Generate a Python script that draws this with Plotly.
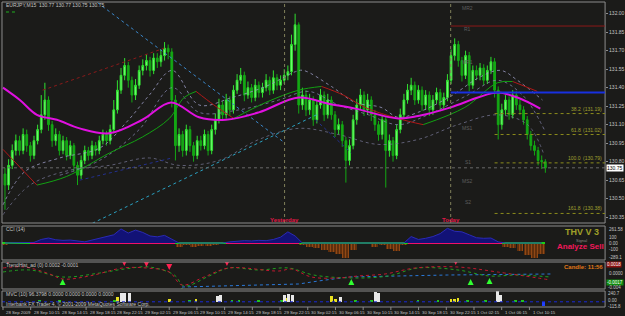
import plotly.graph_objects as go

W, H = 625, 316
BG = "#1b1b19"
FONT = "Liberation Sans"


def fx(p):
    return p / W


def fy(p):
    return (H - p) / H


# ---------------- price data (M15 candles, 2 bars per candle) ----------------
first_open = 130.70
closes = [
    130.61, 130.77, 130.89, 130.97, 130.89, 131.02, 130.93, 130.85, 130.97, 131.06,
    131.18, 131.30, 131.10, 130.97, 131.02, 130.89, 130.97, 130.85, 130.93, 130.77,
    130.69, 130.81, 130.89, 130.85, 130.93, 130.89, 130.97, 131.02, 130.97, 131.06,
    131.22, 131.38, 131.50, 131.58, 131.46, 131.34, 131.42, 131.54, 131.58, 131.62,
    131.54, 131.64, 131.61, 131.66, 131.72, 131.69, 131.30, 130.93, 131.02, 130.89,
    131.06, 130.93, 130.85, 130.97, 130.93, 131.02, 130.89, 131.06, 131.14, 131.26,
    131.18, 131.30, 131.22, 131.38, 131.46, 131.50, 131.34, 131.40, 131.32, 131.42,
    131.36, 131.40, 131.46, 131.38, 131.48, 131.42, 131.46, 131.50, 131.53, 131.75,
    131.91, 131.26, 131.34, 131.22, 131.30, 131.14, 131.26, 131.34, 131.18, 131.30,
    131.18, 131.06, 131.10, 130.97, 130.81, 130.93, 131.14, 131.26, 131.34, 131.22,
    131.30, 131.18, 131.10, 131.02, 131.14, 130.89, 130.97, 130.85, 131.06, 131.18,
    131.30, 131.38, 131.42, 131.30, 131.38, 131.26, 131.34, 131.22, 131.30, 131.36,
    131.26, 131.32, 131.46, 131.66, 131.75, 131.62, 131.50, 131.66, 131.42, 131.54,
    131.50, 131.56, 131.46, 131.54, 131.61, 131.38, 131.10, 131.22, 131.30, 131.18,
    131.34, 131.26, 131.22, 131.14, 131.02, 130.93, 130.89, 130.81, 130.80, 130.75,
]
highs = [
    130.75, 130.82, 130.94, 131.02, 131.01, 131.07, 131.06, 130.96, 131.01, 131.10,
    131.34, 131.44, 131.33, 131.13, 131.07, 131.05, 131.01, 131.00, 130.97, 130.95,
    130.80, 130.85, 130.93, 130.92, 130.97, 130.96, 131.01, 131.06, 131.05, 131.10,
    131.30, 131.46, 131.56, 131.64, 131.61, 131.49, 131.47, 131.58, 131.63, 131.67,
    131.65, 131.68, 131.68, 131.71, 131.77, 131.75, 131.72, 131.34, 131.07, 131.05,
    131.10, 131.09, 130.96, 131.01, 131.01, 131.06, 131.05, 131.10, 131.19, 131.31,
    131.29, 131.35, 131.33, 131.42, 131.51, 131.56, 131.53, 131.45, 131.43, 131.47,
    131.45, 131.44, 131.51, 131.49, 131.54, 131.51, 131.50, 131.55, 131.58, 131.83,
    132.00, 131.93, 131.40, 131.38, 131.35, 131.33, 131.30, 131.39, 131.37, 131.35,
    131.33, 131.21, 131.15, 131.13, 131.00, 130.98, 131.18, 131.31, 131.39, 131.37,
    131.35, 131.33, 131.22, 131.13, 131.18, 131.17, 131.02, 131.00, 131.10, 131.23,
    131.35, 131.43, 131.48, 131.45, 131.42, 131.41, 131.38, 131.37, 131.34, 131.40,
    131.39, 131.36, 131.51, 131.71, 131.80, 131.78, 131.65, 131.70, 131.69, 131.58,
    131.58, 131.60, 131.59, 131.58, 131.65, 131.64, 131.41, 131.27, 131.34, 131.33,
    131.38, 131.37, 131.30, 131.25, 131.17, 131.05, 130.97, 130.92, 130.85, 130.82,
]
lows = [
    130.41, 130.57, 130.74, 130.85, 130.85, 130.86, 130.88, 130.80, 130.82, 130.94,
    131.03, 131.14, 131.05, 130.92, 130.93, 130.85, 130.86, 130.81, 130.82, 130.72,
    130.61, 130.66, 130.78, 130.81, 130.82, 130.85, 130.86, 130.94, 130.93, 130.94,
    131.03, 131.19, 131.35, 131.46, 131.40, 131.28, 131.30, 131.39, 131.50, 131.54,
    131.49, 131.51, 131.56, 131.57, 131.62, 131.63, 131.24, 130.81, 130.88, 130.84,
    130.85, 130.88, 130.80, 130.82, 130.89, 130.90, 130.85, 130.86, 131.02, 131.11,
    131.13, 131.15, 131.17, 131.19, 131.35, 131.43, 131.29, 131.31, 131.28, 131.29,
    131.32, 131.32, 131.37, 131.34, 131.35, 131.38, 131.38, 131.43, 131.46, 131.50,
    131.70, 131.19, 131.22, 131.17, 131.18, 131.09, 131.11, 131.23, 131.13, 131.15,
    131.14, 131.00, 131.02, 130.92, 130.63, 130.77, 130.90, 131.10, 131.22, 131.17,
    131.18, 131.13, 131.05, 130.97, 130.98, 130.59, 130.84, 130.80, 130.82, 131.03,
    131.15, 131.27, 131.34, 131.26, 131.27, 131.21, 131.22, 131.17, 131.18, 131.27,
    131.21, 131.22, 131.29, 131.43, 131.62, 131.57, 131.45, 131.47, 131.37, 131.39,
    131.46, 131.46, 131.42, 131.43, 131.51, 131.32, 130.98, 131.06, 131.18, 131.14,
    131.15, 131.22, 131.18, 131.10, 130.98, 130.89, 130.85, 130.77, 130.74, 130.71,
]

# ---------------- overlay lines (control points: bar index, price) ----------------
magenta_idx = [-0.55, 4.1, 8.8, 14.3, 20.6, 28.8, 37.9, 45.8, 53.5, 60.9, 70.0,
               81.0, 89.2, 96.6, 108.4, 113.9, 122.9, 130.4, 135.8, 141.3, 147.6]
magenta_val = [131.40, 131.30, 131.18, 131.14, 131.07, 131.03, 131.14, 131.28, 131.16, 131.14, 131.20,
               131.32, 131.27, 131.23, 131.15, 131.17, 131.24, 131.32, 131.36, 131.32, 131.23]

ma_green_idx = [8.8, 17.0, 28.8, 37.9, 45.3, 49.4, 52.7, None,
                63.1, 71.9, 81.0, 87.3, None,
                115.3, 126.8, 135.8, 140.0]
ma_green_val = [130.61, 130.68, 130.87, 131.00, 131.15, 131.32, 131.37, None,
                131.15, 131.28, 131.38, 131.41, None,
                131.10, 131.24, 131.44, 131.45]
ma_red_idx = [-0.55, 8.8, None, 52.7, 57.6, 63.1, None,
              87.3, 93.3, 99.3, 108.4, 115.3, None, 140.0, 146.8]
ma_red_val = [130.90, 130.61, None, 131.37, 131.26, 131.15, None,
              131.41, 131.34, 131.24, 131.15, 131.10, None, 131.45, 131.37]

band1_idx = [-0.55, 5.5, 15.1, 26.1, 33.5, 39.8, 46.1, 53.5, 62.6, 71.9, 80.1, 82.3,
             90.0, 96.6, 103.7, 108.4, 113.9, 122.9, 131.2, 136.7, 141.3, 148.2]
band1_val = [130.45, 130.72, 130.83, 130.91, 131.12, 131.34, 131.54, 131.26, 131.32, 131.41, 131.53, 131.54,
             131.41, 131.28, 131.24, 131.16, 131.20, 131.33, 131.49, 131.54, 131.46, 131.30]
band2_idx = [15.1, 26.1, 37.0, 46.1, 53.5, 64.5, 75.5, 83.7, 91.9, 100.2, 108.4,
             116.6, 127.6, 135.8, 142.7, 148.7]
band2_val = [130.69, 130.81, 131.06, 131.40, 131.20, 131.22, 131.30, 131.37, 131.26, 131.18, 131.10,
             131.18, 131.34, 131.46, 131.34, 131.06]
band3_idx = [-0.55, 6.9, 17.8, 28.8, 39.8, 48.0, 59.0, 70.0, 81.0, 91.9, 102.9,
             113.9, 124.9, 135.8, 144.1, 148.7]
band3_val = [130.37, 130.61, 130.73, 130.77, 130.83, 130.77, 130.81, 130.98, 131.07, 131.02, 130.94,
             130.98, 131.10, 131.18, 131.10, 130.85]

trend_red = ([10.4, 43.9], [131.38, 131.72])
trend_teal_down = ([25.5, 76.8], [132.09, 130.96])
trend_teal_up = ([24.1, 85.9], [130.30, 131.18])
trend_navy_a = ([20.6, 46.1], [130.65, 130.83])
trend_navy_b = ([85.6, 95.5], [131.14, 130.87])

yesterday_idx = 77.1
today_idx = 122.9
current_price = 130.75
r1_level = 131.90
pp_level = 131.36
pivot_names = ["MR2", "R1", "MR1", "MS1", "S1", "MS2", "S2"]
pivot_levels = [132.05, 131.88, 131.61, 131.07, 130.80, 130.64, 130.47]
fib_names = ["38.2", "61.8", "100.0", "161.8"]
fib_levels = [131.19, 131.02, 130.79, 130.38]
fib_start_idx = 135.0

price_ticks = [132.00, 131.85, 131.70, 131.55, 131.40, 131.25, 131.10,
               130.95, 130.80, 130.65, 130.50, 130.35]

# ---------------- CCI (every 2nd candle) ----------------
cci = [-30, -10, 0, -5, 10, 60, 85, 55, 45, 50, 30, 20, 50, 80, 100, 140, 240, 170, 220, 180,
       120, 105, 130, 60, -70, -40, -60, -50, -45, -30, -5, 20, 30, 40, 35, 45, 40, 60, 100, 190,
       120, -20, -60, -80, -120, -150, -180, -250, -120, -10, -5, -60, -30, -110, -140, -40, 110, 60, 80, 110,
       160, 250, 200, 190, 140, 90, 80, 85, 20, -60, -80, -140, -200, -250, -180]

# ---------------- TrendHist lines ----------------
th_red_idx = [-0.55, 5.5, 12.3, 15.9, 23.3, 32.4, 39.0, 45.3, 48.8, 54.9, 61.7, 75.5, 79.0,
              84.5, 91.9, 97.4, 104.8, 113.1, 124.9, 135.8, 150.4]
th_red_val = [0.00089, 0.00107, -0.00022, -0.00115, -0.00059, 0.00089, 0.00089, 0.00015, -0.00226,
              -0.00078, 0.00089, 0.00033, 0.00070, -0.00078, -0.00096, -0.00059, -0.00022, 0.00089,
              0.00107, 0.00015, -0.00133]
th_green_idx = [-0.55, 6.9, 15.9, 26.1, 32.9, 39.8, 46.7, 49.4, 56.3, 61.7, 70.0, 78.2, 85.1,
                95.5, 105.7, 113.9, 124.9, 133.6, 141.3, 150.4]
th_green_val = [0.00015, 0.00052, -0.00078, -0.00004, 0.00070, 0.00107, -0.00041, -0.00244, -0.00059,
                0.00089, 0.00052, 0.00089, -0.00041, -0.00096, -0.00059, 0.00089, 0.00052, -0.00059,
                -0.00041, -0.00078]
th_blue_idx = [48.8, 59.0, 67.2, 81.0, 86.4, 94.7, 108.4, 122.1, 150.4]
th_blue_val = [-0.00263, -0.00244, -0.00226, -0.00207, -0.00152, -0.00078, -0.00059, -0.00041, -0.00022]
sell_idx = [0.8, 32.9, 39.0, 45.3, 61.2, 124.3]
sell_val = [0.00163, 0.00126, 0.00107, 0.00052, 0.00126, 0.00144]
buy_idx = [15.9, 48.8, 95.5, 128.4, 133.6]
buy_val = [-0.00115, -0.00281, -0.00115, -0.00115, -0.00096]

# ---------------- MVC histogram ----------------
vol_white_idx = [32.1, 33.0, 34.3, 58.5, 59.5, 77.1, 78.2, 79.3, 92.5, 102.1, 102.9, 135.8, 136.7]
vol_white_val = [196, 196, 190, 140, 150, 150, 170, 160, 107, 210, 200, 230, 160]
vol_yellow_idx = [31.0, 45.3, 52.7, 77.7, 90.0, 91.1, 123.0, 124.0, 124.9]
vol_yellow_val = [107, 62, 62, 85, 129, 62, 62, 62, 90]
vol_green_idx = [9.6, 15.1, 30.2, 50.8, 62.6, 64.5, 70.0, 76.3, 96.6, 101.0, 113.9, 119.4,
                 127.6, 132.5, 140.8, 142.7]
vol_green_val = [30, 20, 40, 30, 30, 20, 30, 40, 35, 40, 30, 25, 35, 30, 30, 25]
vol_blue_idx = [148.5]
vol_blue_val = [-100]

time_labels = ["28 Sep 2009", "28 Sep 10:15", "28 Sep 14:15", "28 Sep 18:15", "28 Sep 22:15",
               "29 Sep 02:15", "29 Sep 06:15", "29 Sep 10:15", "29 Sep 14:15", "29 Sep 18:15",
               "29 Sep 22:15", "30 Sep 02:15", "30 Sep 06:15", "30 Sep 10:15", "30 Sep 14:15",
               "30 Sep 18:15", "30 Sep 22:15", "1 Oct 02:15", "1 Oct 06:15", "1 Oct 10:15"]

# ======================================================================
idx = list(range(len(closes)))
opens = [first_open] + closes[:-1]
hi = [max(h, o, c) for h, o, c in zip(highs, opens, closes)]
lo = [min(l, o, c) for l, o, c in zip(lows, opens, closes)]
X_RANGE = [-0.823, 165.47]
X_END = X_RANGE[1]

fig = go.Figure()


def line(xs, ys, color, width=1, dash=None, ax="", shape="linear", opacity=1.0):
    fig.add_trace(go.Scatter(x=xs, y=ys, mode="lines", xaxis="x" + ax, yaxis="y" + ax,
                             line=dict(color=color, width=width, dash=dash, shape=shape),
                             opacity=opacity, hoverinfo="skip", connectgaps=False))


# main panel overlays (behind candles)
line(band3_idx, band3_val, "#7c7c9c", 1, "dot", shape="spline", opacity=0.7)
line(band2_idx, band2_val, "#8c8cb8", 1, "dot", shape="spline", opacity=0.7)
line(band1_idx, band1_val, "#9c9cc4", 1, "dot", shape="spline", opacity=0.8)
line(*trend_teal_down, "#3a86c8", 1, "dot")
line(*trend_teal_up, "#2aa0c0", 1, "dot")
line(*trend_navy_a, "#23308e", 1, "dot")
line(*trend_navy_b, "#23308e", 1, "dot")
line(*trend_red, "#8a1a1a", 1, "dot")
line(ma_green_idx, ma_green_val, "#12a012", 1, shape="spline")
line(ma_red_idx, ma_red_val, "#b01818", 1, shape="spline")

fig.add_trace(go.Candlestick(
    x=idx, open=opens, high=hi, low=lo, close=closes, xaxis="x", yaxis="y",
    increasing=dict(line=dict(color="#30e030", width=1), fillcolor="#7dff7d"),
    decreasing=dict(line=dict(color="#14a814", width=1), fillcolor="#14a814"),
    whiskerwidth=0, showlegend=False, hoverinfo="skip"))

line(magenta_idx, magenta_val, "#e010e0", 2, shape="spline")

# ---- CCI panel
cci_idx = list(range(0, 2 * len(cci), 2))
fig.add_trace(go.Scatter(x=cci_idx, y=[max(v, 0) for v in cci], xaxis="x2", yaxis="y2",
                         mode="lines", fill="tozeroy", fillcolor="#121276",
                         line=dict(color="#2a2ab4", width=1), hoverinfo="skip"))
fig.add_trace(go.Bar(x=cci_idx, y=[min(v, 0) for v in cci], xaxis="x2", yaxis="y2", width=1.9,
                     marker=dict(color="#5a2c0c", line=dict(width=0),
                                 pattern=dict(shape="|", fgcolor="#c8641e", size=3, solidity=0.4)),
                     hoverinfo="skip"))
fig.add_trace(go.Bar(x=cci_idx, y=[50] * len(cci), base=[-25] * len(cci), xaxis="x2", yaxis="y2",
                     width=2.0, marker=dict(color=["#f0106a" if v > 0 else "#18d018" for v in cci],
                                            line=dict(width=0)), hoverinfo="skip"))

# ---- TrendHist panel
line(th_blue_idx, th_blue_val, "#2a78d8", 1, "dot", ax="3")
line(th_green_idx, th_green_val, "#20a020", 1, "dot", ax="3", shape="spline")
line(th_red_idx, th_red_val, "#c01830", 1, "dot", ax="3", shape="spline")
fig.add_trace(go.Scatter(x=sell_idx, y=sell_val, xaxis="x3", yaxis="y3", mode="markers",
                         marker=dict(symbol="arrow-down", size=6, color="#ff2050"), hoverinfo="skip"))
fig.add_trace(go.Scatter(x=buy_idx, y=buy_val, xaxis="x3", yaxis="y3", mode="markers",
                         marker=dict(symbol="arrow-up", size=6, color="#30ff30"), hoverinfo="skip"))

# ---- MVC panel
line([X_RANGE[0], X_END], [0, 0], "#1a2ad8", 1, "dot", ax="4")
for xs, ys, col in [(vol_green_idx, vol_green_val, "#20c020"),
                    (vol_yellow_idx, vol_yellow_val, "#e8e020"),
                    (vol_white_idx, vol_white_val, "#e8e8e8"),
                    (vol_blue_idx, vol_blue_val, "#2040ff")]:
    fig.add_trace(go.Bar(x=xs, y=ys, xaxis="x4", yaxis="y4", width=0.75,
                         marker=dict(color=col, line=dict(width=0)), hoverinfo="skip"))

# ---------------- layout ----------------
panels = {"main": (2, 223), "cci": (226, 260), "th": (262, 289), "vol": (291, 307)}
xdom = [fx(2), fx(608)]
hidden = dict(visible=False, showgrid=False, zeroline=False, fixedrange=True)

shapes = []
for (t, b) in panels.values():
    shapes.append(dict(type="rect", xref="paper", yref="paper", x0=fx(2), x1=fx(608),
                       y0=fy(b), y1=fy(t), line=dict(color="#8c8c8c", width=1), layer="above"))
shapes.append(dict(type="line", xref="x", yref="y", x0=X_RANGE[0], x1=X_END, y0=current_price,
                   y1=current_price, line=dict(color="#6a6a6a", width=1, dash="dot")))
for vx in (yesterday_idx, today_idx):
    shapes.append(dict(type="line", xref="x", yref="paper", x0=vx, x1=vx, y0=fy(223), y1=fy(2),
                       line=dict(color="#80805a", width=1, dash="dot")))
shapes.append(dict(type="line", xref="x", yref="y", x0=today_idx, x1=X_END, y0=r1_level, y1=r1_level,
                   line=dict(color="#8c1818", width=1)))
shapes.append(dict(type="line", xref="x", yref="y", x0=today_idx, x1=X_END, y0=pp_level, y1=pp_level,
                   line=dict(color="#1830e0", width=2)))
for lv in fib_levels:
    shapes.append(dict(type="line", xref="x", yref="y", x0=fib_start_idx, x1=X_END, y0=lv, y1=lv,
                       line=dict(color="#8c8c1c", width=1, dash="dot")))
shapes.append(dict(type="line", xref="paper", yref="paper", x0=fx(6), x1=fx(16), y0=fy(12), y1=fy(12),
                   line=dict(color="#20b020", width=1, dash="dot")))
for k in range(len(time_labels)):
    xp = 3 + 27.84 * k
    shapes.append(dict(type="line", xref="paper", yref="paper", x0=fx(xp), x1=fx(xp),
                       y0=fy(307), y1=fy(310), line=dict(color="#8c8c8c", width=1)))

ann = []


def text(x, y, s, size=5, color="#c4c4c4", anchor="left", xref="paper", yref="paper", bold=False,
         bg=None, yanchor="middle"):
    d = dict(x=x, y=y, xref=xref, yref=yref, text=("<b>%s</b>" % s) if bold else s,
             showarrow=False, xanchor=anchor, yanchor=yanchor,
             font=dict(size=size, color=color, family=FONT))
    if bg:
        d.update(bgcolor=bg, borderpad=0)
    ann.append(d)


text(fx(4), fy(5), "EURJPY,M15  130.77 130.77 130.75 130.75")
text(fx(4), fy(229), "CCI (14)")
text(fx(4), fy(265), "TrendHist_ad (0) 0.0002 -0.0001")
text(fx(4), fy(294), "MVC (10) 96.3798 0.0000 0.0000 0.0000 0.0000")
text(fx(4), fy(304), "Interbank FX Trader 4, \u00a9 2001-2009 MetaQuotes Software Corp.", size=5)

text(yesterday_idx, fy(220), "Yesterday", size=6, color="#e01848", anchor="center", xref="x", bold=True)
text(today_idx, fy(220), "Today", size=6, color="#e01848", anchor="center", xref="x", bold=True)

for name, lv in zip(pivot_names, pivot_levels):
    text(127.6, lv, name, size=5, color="#5e5e5e", anchor="center", xref="x", yref="y")
for name, lv in zip(fib_names, fib_levels):
    text(fx(586), lv, name, size=5, color="#a0a030", anchor="right", yref="y", yanchor="bottom")
    text(fx(607), lv, "(%.2f)" % lv, size=5, color="#a0a030", anchor="right", yref="y", yanchor="bottom")

text(fx(609), current_price, "%.2f" % current_price, size=5, color="#000000", yref="y", bg="#ffffff")

for yy, s in [(229, "261.58"), (237, "100"), (243.5, "0.00"), (249.5, "-100"), (257, "-289.1")]:
    text(fx(610), fy(yy), s, size=4.5)
text(fx(609), fy(264), "0.0018", color="#ffffff", bg="#8c1010", size=4.5)
text(fx(610), fy(273), "0.0000", size=4.5)
text(fx(609), fy(282), "-0.0017", color="#ffffff", bg="#108c10", size=4.5)
text(fx(609), fy(287), "-0.004", size=4.5)
for yy, s in [(293.5, "240.7"), (300.5, "0.00"), (306, "-115.8")]:
    text(fx(609), fy(yy), s, size=4.5)

text(fx(585), fy(232), "THV V 3", size=9, color="#a0a028", anchor="center", bold=True)
text(fx(584), fy(240), "Signal", size=4, color="#8a8a8a", anchor="center")
text(fx(583), fy(246), "Analyze Sell", size=8, color="#f0185a", anchor="center", bold=True)
text(fx(586), fy(267), "Candle: 11:56", size=6, color="#e07818", anchor="center", bold=True)

for k, s in enumerate(time_labels):
    text(fx(3 + 27.84 * k + 1.5), fy(312), s, size=4.3)

fig.update_layout(
    width=W, height=H, margin=dict(l=0, r=0, t=0, b=0, pad=0),
    paper_bgcolor=BG, plot_bgcolor=BG, showlegend=False, barmode="overlay", bargap=0,
    xaxis=dict(domain=xdom, range=X_RANGE, anchor="y", rangeslider=dict(visible=False), **hidden),
    xaxis2=dict(domain=xdom, range=X_RANGE, anchor="y2", matches="x", **hidden),
    xaxis3=dict(domain=xdom, range=X_RANGE, anchor="y3", matches="x", **hidden),
    xaxis4=dict(domain=xdom, range=X_RANGE, anchor="y4", matches="x", **hidden),
    yaxis=dict(domain=[fy(223), fy(2)], range=[130.3025, 132.0949], anchor="x", side="right",
               tickvals=price_ticks, ticktext=["%.2f" % v for v in price_ticks],
               tickfont=dict(size=5, color="#c4c4c4", family=FONT), ticks="outside", ticklen=2,
               tickcolor="#8c8c8c", showline=False, showgrid=False, zeroline=False, fixedrange=True),
    yaxis2=dict(domain=[fy(260), fy(226)], range=[-290, 290], anchor="x2", **hidden),
    yaxis3=dict(domain=[fy(289), fy(262)], range=[-0.003, 0.002], anchor="x3", **hidden),
    yaxis4=dict(domain=[fy(307), fy(291)], range=[-115.8, 240.7], anchor="x4", **hidden),
    shapes=shapes, annotations=ann,
)

fig.write_html("out.html")
